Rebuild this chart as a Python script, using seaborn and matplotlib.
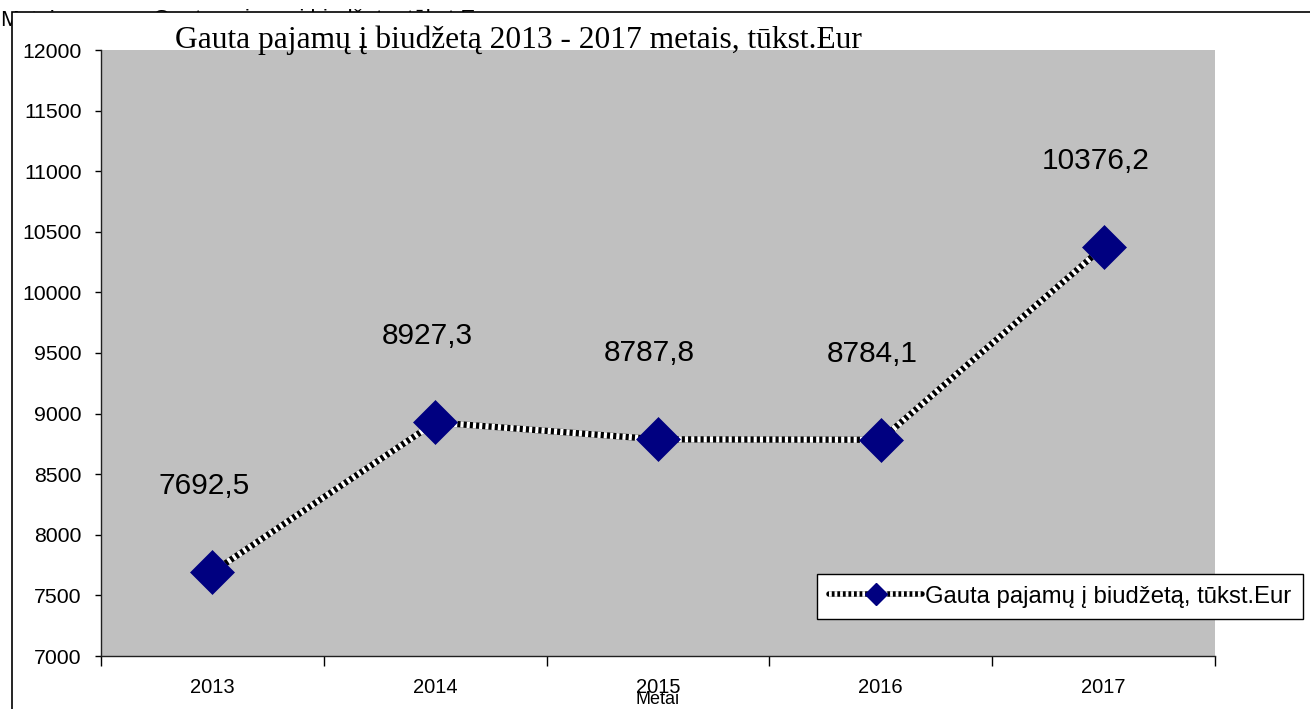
import matplotlib
matplotlib.use("Agg")
import matplotlib.pyplot as plt
from matplotlib.lines import Line2D
from matplotlib.patches import Rectangle
import seaborn as sns
import pandas as pd

# Data
years = ["2013", "2014", "2015", "2016", "2017"]
income = [7692.5, 8927.3, 8787.8, 8784.1, 10376.2]
y_ticks = list(range(7000, 12001, 500))
series_name = "Gauta pajamų į biudžetą, tūkst.Eur"
chart_title = "Gauta pajamų į biudžetą 2013 - 2017 metais, tūkst.Eur"
x_title = "Metai"

df = pd.DataFrame({"Metai": years, "Pajamos": income})

sns.set_style("white")
plt.rcParams["font.family"] = ["Liberation Sans", "DejaVu Sans"]
for k in ["text.color", "axes.labelcolor", "xtick.color", "ytick.color"]:
    plt.rcParams[k] = "black"

W, H = 1310, 709
fig = plt.figure(figsize=(W / 100, H / 100), dpi=100)
fig.patch.set_facecolor("white")

# text of the layer behind the chart, mostly hidden
fig.text(0, 1 - 20 / H, "Metai", fontsize=16, va="center", ha="left", zorder=-3)
fig.text(153 / W, 1 - 20 / H, series_name, fontsize=16, va="center", ha="left", zorder=-3)
fig.patches.append(Rectangle((12 / W, -0.1), 1.2, 1.1 - 12 / H, transform=fig.transFigure,
                             facecolor="white", edgecolor="black", lw=1.2, zorder=-2))

ax = fig.add_axes([101 / W, 1 - 656 / H, (1215 - 101) / W, (656 - 50) / H])
ax.set_facecolor("#C0C0C0")

# checkered line: black base with white dashes on top
sns.lineplot(data=df, x="Metai", y="Pajamos", color="black", lw=4.5, ax=ax, zorder=2)
sns.lineplot(data=df, x="Metai", y="Pajamos", color="white", lw=4.5,
             linestyle=(0, (0.5, 0.5)), ax=ax, zorder=3)
sns.scatterplot(data=df, x="Metai", y="Pajamos", marker="D", s=500, color="#000080",
                edgecolor="#000080", linewidth=0.5, ax=ax, zorder=4)

for i, v in enumerate(income):
    ax.annotate(f"{v:.1f}".replace(".", ","), xy=(i, v), xytext=(-6, 62),
                textcoords="offset points", ha="center", va="center", fontsize=21.5)

ax.set_xlim(-0.5, len(years) - 0.5)
ax.set_ylim(7000, 12000)
ax.set_yticks(y_ticks)
ax.set_yticklabels([str(t) for t in y_ticks], fontsize=15.3)
ax.tick_params(axis="y", direction="out", length=4, width=1, pad=10, left=True)

ax.set_xticks([i - 0.5 for i in range(len(years) + 1)])
ax.set_xticklabels([])
ax.set_xticks(range(len(years)), minor=True)
ax.set_xticklabels(years, minor=True, fontsize=14.5)
ax.tick_params(axis="x", which="major", direction="out", length=7, width=1, bottom=True)
ax.tick_params(axis="x", which="minor", length=0, pad=16)

ax.set_xlabel(x_title, fontsize=13, va="center")
ax.xaxis.set_label_coords(0.5, -0.071)
ax.set_ylabel("")

for s in ["top", "right"]:
    ax.spines[s].set_visible(False)
for s in ["left", "bottom"]:
    ax.spines[s].set_color("#202020")
    ax.spines[s].set_linewidth(1)

fig.text(518 / W, 1 - 40 / H, chart_title, family=["Liberation Serif", "DejaVu Serif"],
         fontsize=22.7, ha="center", va="center", zorder=5)

handle = Line2D([], [], color="black", lw=4)
handle2 = Line2D([], [], color="white", lw=4, linestyle=(0, (0.5, 0.5)))
marker_h = Line2D([], [], lw=0, marker="D", markersize=11,
                  markerfacecolor="#000080", markeredgecolor="#000080")
leg = ax.legend([(handle, handle2, marker_h)], [series_name], loc="center left",
                bbox_to_anchor=(817 / W, 1 - 596.5 / H), bbox_transform=fig.transFigure,
                fontsize=17.2, frameon=True, fancybox=False, framealpha=1,
                edgecolor="black", handlelength=3.9, handletextpad=0.1,
                borderpad=0.5, borderaxespad=0)
leg.get_frame().set_linewidth(1)
leg.set_zorder(6)

fig.savefig("out.png", dpi=100)
